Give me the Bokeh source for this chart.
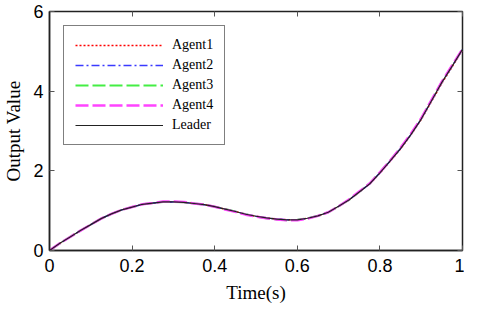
from bokeh.plotting import figure
from bokeh.models import Range1d, FixedTicker, LinearAxis, Legend, LegendItem
from bokeh.embed import file_html
from bokeh.resources import INLINE

# ---- data ----
time = [0.0, 0.025, 0.05, 0.075, 0.1, 0.125, 0.15, 0.175, 0.2, 0.225, 0.25,
        0.275, 0.3, 0.325, 0.35, 0.375, 0.4, 0.425, 0.45, 0.475, 0.5,
        0.525, 0.55, 0.575, 0.6, 0.625, 0.65, 0.675, 0.7, 0.725, 0.75,
        0.775, 0.8, 0.825, 0.85, 0.875, 0.9, 0.925, 0.95, 0.975, 1.0]
leader = [0.0, 0.18, 0.34, 0.50, 0.65, 0.80, 0.92, 1.02, 1.09, 1.16, 1.19,
          1.22, 1.22, 1.21, 1.18, 1.15, 1.10, 1.04, 0.98, 0.91, 0.86,
          0.82, 0.79, 0.77, 0.77, 0.81, 0.87, 0.96, 1.11, 1.27, 1.47,
          1.67, 1.95, 2.25, 2.56, 2.91, 3.30, 3.76, 4.22, 4.63, 5.05]
agent1 = [0.0, 0.18, 0.34, 0.50, 0.65, 0.80, 0.92, 1.02, 1.09, 1.16, 1.19,
          1.22, 1.22, 1.21, 1.18, 1.15, 1.10, 1.04, 0.98, 0.91, 0.86,
          0.82, 0.79, 0.77, 0.77, 0.81, 0.87, 0.96, 1.11, 1.27, 1.47,
          1.67, 1.94, 2.24, 2.55, 2.90, 3.29, 3.74, 4.20, 4.61, 5.04]
agent2 = [0.0, 0.18, 0.34, 0.50, 0.65, 0.80, 0.92, 1.02, 1.09, 1.16, 1.19,
          1.22, 1.22, 1.21, 1.18, 1.15, 1.10, 1.04, 0.98, 0.91, 0.86,
          0.82, 0.79, 0.77, 0.77, 0.81, 0.87, 0.96, 1.11, 1.27, 1.47,
          1.67, 1.95, 2.25, 2.56, 2.91, 3.30, 3.76, 4.22, 4.63, 5.05]
agent3 = [0.0, 0.18, 0.34, 0.50, 0.65, 0.80, 0.92, 1.02, 1.09, 1.16, 1.19,
          1.22, 1.22, 1.21, 1.18, 1.15, 1.10, 1.04, 0.98, 0.91, 0.85,
          0.81, 0.78, 0.76, 0.77, 0.81, 0.87, 0.96, 1.11, 1.27, 1.47,
          1.68, 1.96, 2.26, 2.57, 2.92, 3.31, 3.77, 4.23, 4.64, 5.05]
agent4 = [0.0, 0.18, 0.34, 0.50, 0.65, 0.80, 0.92, 1.02, 1.09, 1.16, 1.19,
          1.23, 1.23, 1.22, 1.18, 1.15, 1.10, 1.03, 0.97, 0.90, 0.85,
          0.81, 0.78, 0.76, 0.76, 0.80, 0.87, 0.96, 1.11, 1.28, 1.48,
          1.68, 1.96, 2.26, 2.58, 2.93, 3.32, 3.78, 4.24, 4.65, 5.06]

x_ticks = [0, 0.2, 0.4, 0.6, 0.8, 1]
x_tick_labels = ["0", "0.2", "0.4", "0.6", "0.8", "1"]
y_ticks = [0, 2, 4, 6]
y_tick_labels = ["0", "2", "4", "6"]

series_names = ["Agent1", "Agent2", "Agent3", "Agent4", "Leader"]

# ---- figure ----
p = figure(width=464, height=305, output_backend="svg", toolbar_location=None,
           x_range=Range1d(0, 1), y_range=Range1d(0, 6),
           min_border_left=40, min_border_right=2, min_border_top=11,
           min_border_bottom=0)
p.background_fill_color = "white"
p.border_fill_color = "white"
p.xgrid.visible = False
p.ygrid.visible = False
p.outline_line_color = "#222222"
p.outline_line_width = 1.5

tick_font = "Liberation Sans"
label_font = "Liberation Serif"

p.xaxis.ticker = FixedTicker(ticks=x_ticks)
p.xaxis.major_label_overrides = {t: l for t, l in zip(x_ticks, x_tick_labels)}
p.yaxis.ticker = FixedTicker(ticks=y_ticks)
p.yaxis.major_label_overrides = {t: l for t, l in zip(y_ticks, y_tick_labels)}

for ax in (p.xaxis[0], p.yaxis[0]):
    ax.major_label_text_font = tick_font
    ax.major_label_text_font_size = "18px"
    ax.major_label_text_color = "black"
    ax.axis_label_text_font = label_font
    ax.axis_label_text_font_size = "19px"
    ax.axis_label_text_font_style = "normal"
    ax.axis_label_text_color = "black"
    ax.major_tick_in = 5
    ax.major_tick_out = 0
    ax.minor_tick_line_color = None
    ax.major_tick_line_color = "#555555"
    ax.axis_line_color = "#222222"
    ax.axis_line_width = 1.5

p.xaxis.axis_label = "Time(s)"
p.yaxis.axis_label = "Output Value"
p.xaxis.major_label_standoff = 8
p.xaxis.axis_label_standoff = 7
p.xaxis.axis_label_text_line_height = 0.8
p.yaxis.major_label_standoff = 6
p.yaxis.axis_label_standoff = 6

# mirrored ticks on top and right (no labels)
top = LinearAxis(ticker=FixedTicker(ticks=x_ticks),
                 major_label_overrides={t: "" for t in x_ticks},
                 major_label_text_color=None,
                 major_tick_in=5, major_tick_out=0, minor_tick_line_color=None,
                 major_tick_line_color="#555555", axis_line_color=None,
                 major_label_standoff=0)
right = LinearAxis(ticker=FixedTicker(ticks=y_ticks),
                   major_label_overrides={t: "" for t in y_ticks},
                   major_label_text_color=None,
                   major_tick_in=5, major_tick_out=0, minor_tick_line_color=None,
                   major_tick_line_color="#555555", axis_line_color=None,
                   major_label_standoff=0)
p.add_layout(top, "above")
p.add_layout(right, "right")

r1 = p.line(time, agent1, line_color="#ff0000", line_width=1.5, line_dash="2 2")
r2 = p.line(time, agent2, line_color="#3a3aff", line_width=1.5, line_dash="8 3 2 3")
r3 = p.line(time, agent3, line_color="#44ee44", line_width=2, line_dash="13 4")
r4 = p.line(time, agent4, line_color="#ff44ff", line_width=2.5, line_dash="13 4")
r5 = p.line(time, leader, line_color="#222222", line_width=1.2)

legend = Legend(items=[LegendItem(label=n, renderers=[r])
                       for n, r in zip(series_names, [r1, r2, r3, r4, r5])],
                location="top_left", margin=14, padding=11, spacing=4,
                glyph_width=88, glyph_height=16, label_height=16,
                label_standoff=9, label_text_font=label_font,
                label_text_font_size="14px", label_text_color="black",
                border_line_color="black", border_line_width=1,
                background_fill_color="white", background_fill_alpha=1)
p.add_layout(legend)

open("out.html", "w").write(file_html(p, INLINE))
